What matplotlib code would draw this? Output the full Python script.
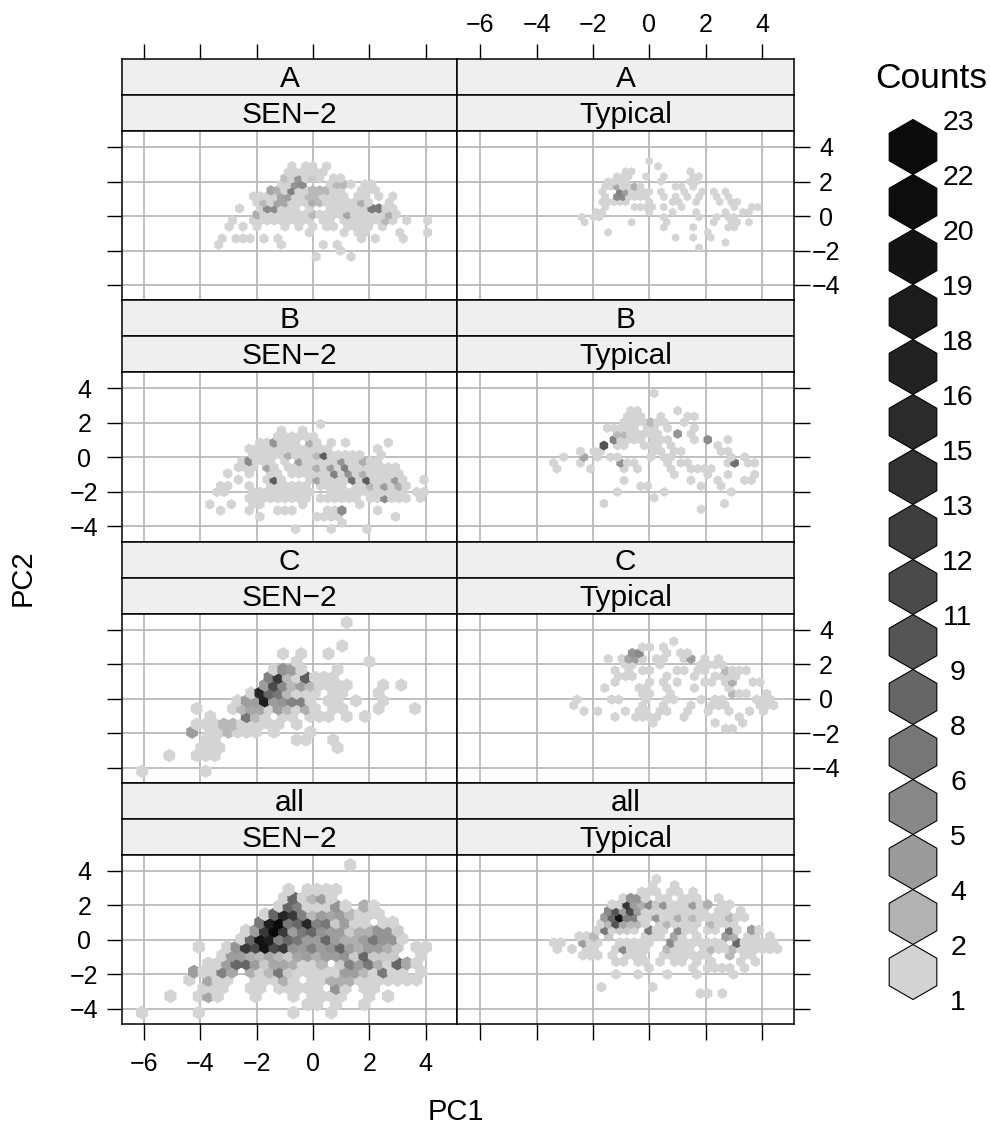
import numpy as np
import matplotlib
matplotlib.use("Agg")
import matplotlib.pyplot as plt

plt.rcParams["font.family"] = ["Liberation Sans", "DejaVu Sans"]

# hexbin cells, one string per hex row from the bottom: "col" or "col:count"
a_sen_rows = [
    "14 19", "17", "0 9 15 17", "0 2 3 4 6 8 20 22 26", "13 18 20 21 26 30",
    "1 3 5 9 11 13 15 16 18 19 20 21 23",
    "2 5 6 7 8 9 10 11 12 13 15 16 18 19 20 21 22 23 24:4 25 27 30",
    "5:5 6 7 8 9 10 11 12 13:4 14 15 16 17 18:6 19 20 21 22 23 24:5 25",
    "3 6 7:9 8:9 9 10 11 13 16 17 18 19 20 21 22:11 23:11 24 25",
    "5 6:4 7 8:6 9:6 10 11 12 13:5 14:4 15 16 17 18 19 20:5 21 24",
    "5 6 7 8 9:6 10:7 11 12 13:4 14:4 15 16 17 18 20 21 23 25",
    "7:6 8:5 9 10:10 11 12 13:4 14:4 15:4 16 17 20 21 22",
    "9 10 11:8 12:9 16 17:4 18:4 19 21 22",
    "9:3 10 11:8 12 13:2 14 16 17",
    "10 11 12 13 14 15",
    "10 12 13 15",
]
a_typ_rows = [
    "20", "24", "16 19 22", "4 21", "14 19 25 26",
    "0 8 14 22 25 26 28",
    "0 2 3 14 20 23 25 26",
    "2 3 11 15 19 24 27 28",
    "4 9 10 11 12 14 17 26 29 30",
    "3 4 5 6 7 11 15 16 19 23 25 26",
    "4 6:9 7:9 8 9 10 11 14 16 18 20 23 25",
    "3 6:10 7:7 8 9 10 11 13 17 20 22 24",
    "4 5 6:6 7 8 9:5 10 16 17 19",
    "4 5 6 7 13 18 19",
    "6 7 8 11 14 19 20",
    "7 8 18",
    "13",
    "11",
]
b_sen_rows = [
    "12 17 22", "18", "7 15 16 17 18 26",
    "1 5 9 10 11 16 17 18:9 23",
    "0 3 6 7 13 21",
    "5 6 7 8 9 10 11 12 13 15 16 17 18 19 20 22 23 24:9 25 26 27 29",
    "1 2 6 7 8 9 10 11 12 13 14 17 18 19 20 21 22 23 24 25 26 27 29 30",
    "1 2 5 8 9 10 11 12 13 15 16 17 18 20 21 22:4 23 24:7 25 26:5 27",
    "4 8 9:14 10 14 15:6 16 17 18 19 20:12 21 22:14 23 24 25 26:7 27 30",
    "2 5 8 9 11 12 13 14 15 16 17:10 18 19:8 20 21:5 22 23 24 25 26",
    "4 5 6 8:6 9 11 12 13 14 15:5 16 17:7 18 19:10 20 21 22 23 24 25 26",
    "4 5:9 6 7 8 10 12:7 13 14 15 16 17 18:8 19 20 21:5 22 23",
    "6 7 8 9 10 11:5 12 13 14 15:4 16:14 17 18 19 20 21 24",
    "5 6 7 8 9 10 11 12 13 14 15 16 23",
    "7 8 9:8 10 11 12 14:5 15 17 19 25",
    "9 10 11 12 13 14",
    "10 13",
    "15",
]
b_typ_rows = [
    "22", "7 25", "15", "9 16 26", "13 14 22 25",
    "10 20 24 28 29",
    "18 23 26 30",
    "0 5 10 12 17 20 21 22 23",
    "0 4 10:8 11 12 17 19 20 26 27:12 29 30",
    "1 4:6 6 8 9 14 16 17 26 28",
    "4 6 7 15 16 18 19 25 26",
    "7:15 9 10 13 14 15 17 24",
    "9:10 10 11 12 13 15 16 17 21 23:9 26",
    "9:4 10:4 11 12 13 14 15 18:8 20",
    "8 9 10 11 12 14 15 17 21",
    "10 11 12 13 14:4 15 16 19",
    "11 12 13 16 20 21",
    "11 12 18",
    "", "",
    "15",
]
c_sen_rows = [
    "0 7", "", "3 6 7 8", "6 7 8 21", "7 8 17 18 21",
    "5:7 7 8 9:4 10 11 12 14 18",
    "6 7 8 9:4 10:4 11 12 13 14 15 17",
    "7 11:11 12:4 13 15 16 18 19 20 22 24",
    "6 10 11:4 12:6 13:6 14 15:7 16:4 17 18:5 19 21 22 26 30",
    "10 11:7 12:7 13:21 14:7 15:8 16:10 17:10 18 20 21 23 26",
    "12 13:20 14:13 15:11 16:4 17 18 19 21 22 26",
    "13:7 14:16 15:9 16:4 17:7 18:4 19 20 21 22 26 28",
    "14:10 15:18 16:4 17 18:14 19 20 21",
    "14 15:8 16:7 17 21",
    "17 25",
    "15 17 20",
    "22", "", "",
    "22",
]
c_typ_rows = [
    "22 23", "11 20 24", "6 9 10 11 12 16 24",
    "1 3 7 9 10 12 13 16 19 22 25 27",
    "0 10 13 17 20 21 22 27 28 29",
    "0 5 6 10 13 14 18 20 21 26 27 28",
    "10 11 14 23:4 24 25 28",
    "4 9 10 13 17 22",
    "6 11 13 15 19 20 22 23:5 26 27",
    "6 7 8 13 17 20 21 22 23",
    "6 8 10 11 15 16 18 19 22:4 23 24 25",
    "7 8 12 18 19 20 21",
    "5 7 8:6 9:7 10 12 13 16 17:7 19 21",
    "8:8 9:9 13 15 16",
    "10 11 13",
    "14",
]
all_sen_rows = [
    "0 6 16 20",
    "17 18 20 23",
    "3 6 7:6 8 12 16 18 19 20 21 24 26",
    "6 7 8 11 12 14 15 16 17 18 20:8 21 23 24",
    "5 7:6 8 9 12 13 14 15:5 16 18 19 20:5 21:5 22:5 23 24 25 26 27 28 29",
    "5:7 6 7 8:10 9:6 11:5 12 13:4 14:11 15:2 16 17 18 19 20 21:7 22:7 23:4 24 25:11 26 27 29",
    "7 8 9:7 10:13 11:13 12:7 13:2 14:6 15:6 16:5 17 18 19:4 21:2 22:10 23:7 24:11 25:5 26 27:13 28:6 29",
    "8 9:7 10:7 11:5 12:4 13:6 14:4 15:2 16:6 17:7 18:5 19:7 20:7 21:8 22:2 23:13 24:2 25:2 26:2 29",
    "6 9 10:8 11:18 12:16 13:22 14:16 15:18 16:8 17:7 18:10 19:7 20:8 21:13 22:7 23:5 24:7 25:7 26:5 27:2 29 30",
    "10 11:13 12:22 13:21 14:10 15:13 16:11 17:7 18:7 19:13 20:7 21:5 22:5 23:7 24:11 25:8 26:8 27",
    "11 12:7 13:18 14:23 15:18 16:7 17:11 18:13 19:8 20:7 21:7 22:2 23:5 24:5 25:8 26:8 27:2",
    "12:11 13:21 14:23 15:11 16:13 17:20 18:10 19:11 20:2 21:7 22 23 25 26",
    "13 14:13 15:20 16:18 17:10 18:4 19:7 20:6 21:7 22:4 23 24 25",
    "14 15:13 16:10 17 18 19 20:8 21 23:5 24",
    "15 16:13 17 18:4 19:7 20",
    "15 17 18 19 20",
    "", "",
    "22",
]
all_typ_rows = [
    "20 21 23",
    "6 13",
    "",
    "8 11 15 19 24",
    "13 19 21 22 23 24 26",
    "8 9 11 12 14 16 17 19 21 25 27",
    "4 5 6 8 10 11 12 15 16 17 18 19 20 21 24:4 26 27",
    "0 2 4 5 8 9:9 10 11 12 15:4 16 17 18 20 21:4 22 23 24:4 25 26 27 28 29 30",
    "0 1 4:7 5 6 9 10 11 12 13 16:9 17 18 19 20 21 22 23 25:13 26 27 28 29 30",
    "3 4 5:4 7:2 12 13 14 16:6 17 19 23:7 24:5 26 27 29",
    "6 7:11 8 9:2 10:2 11 13:11 14 15 17:9 18 19 21 22 24:11 25 27:7 28",
    "6 7:4 8:15 9:6 10:4 11:4 12 14 15:4 16 17 18 19 21:4 22 23 24",
    "7:7 8:13 9:22 10:10 11:10 12 13 14:8 15 16 17:5 18 19:4 20 21 22 23 24:4 25 26",
    "7:9 8:15 9:7 10:16 11:7 12 13 14 15 16 17 18 19 20 22 23 25",
    "8 9 10:18 11:7 12:5 13:9 14:2 15:8 16 17 18 19:7 20 21:5 23 24",
    "9 10:8 11:8 12 14 15 17 18 19 22",
    "12 13 14 16 17 19",
    "13 16",
    "14",
]

# first even-row hex x, column step, first row y, row step of each panel's hex grid
a_sen_bins = (-3.35, 0.2473, -2.36, 0.350)
a_typ_bins = (-2.40, 0.2083, -1.836, 0.2947)
b_sen_bins = (-3.66, 0.2533, -4.155, 0.3575)
b_typ_bins = (-3.396, 0.2379, -3.014, 0.3362)
c_sen_bins = (-6.07, 0.323, -4.21, 0.4541)
c_typ_bins = (-2.686, 0.245, -1.739, 0.3372)
all_sen_bins = (-6.07, 0.336, -4.21, 0.4754)
all_typ_bins = (-3.396, 0.2604, -3.098, 0.3681)

group_names = ["A", "B", "C", "all"]
type_names = ["SEN\u22122", "Typical"]
tick_values = [-6, -4, -2, 0, 2, 4]
ytick_values = [-4, -2, 0, 2, 4]

legend_labels = [23, 22, 20, 19, 18, 16, 15, 13, 12, 11, 9, 8, 6, 5, 4, 2, 1]
legend_greys = ["#0b0b0b", "#0d0d0d", "#141414", "#1c1c1c", "#222222", "#2b2b2b", "#333333", "#3e3e3e",
                "#4a4a4a", "#555555", "#666666", "#767676", "#888888", "#9b9b9b", "#b3b3b3", "#d3d3d3"]

W, H = 990, 1124
FS = 18


def box(x0, y0, x1, y1):
    # pixel box, y from the top, to figure fractions
    return [x0 / W, 1 - y1 / H, (x1 - x0) / W, (y1 - y0) / H]


def parse(rows, bins):
    x0, dx, y0, dy = bins
    xs, ys, counts = [], [], []
    for r, row in enumerate(rows):
        for tok in row.split():
            col, _, n = tok.partition(":")
            xs.append(x0 + dx * (int(col) + 0.5 * (r % 2)))
            ys.append(y0 + dy * r)
            counts.append(int(n) if n else 1)
    return np.array(xs), np.array(ys), np.array(counts)


fig = plt.figure(figsize=(W / 100, H / 100), dpi=100)

cols = [(122, 457, 144), (457, 794, 480.3)]
period = 241.33
tops = [59 + period * n for n in range(4)]
all_rows = [[a_sen_rows, a_typ_rows], [b_sen_rows, b_typ_rows], [c_sen_rows, c_typ_rows], [all_sen_rows, all_typ_rows]]
all_bins = [[a_sen_bins, a_typ_bins], [b_sen_bins, b_typ_bins], [c_sen_bins, c_typ_bins], [all_sen_bins, all_typ_bins]]
UNIT = 28.17
tick_px = 15.5 * 0.72

for i, top in enumerate(tops):
    for j, (left, right, x_m6) in enumerate(cols):
        xlim = ((left - x_m6) / UNIT - 6, (right - x_m6) / UNIT - 6)

        # two strips on top of every panel
        for k, label in enumerate([group_names[i], type_names[j]]):
            st = fig.add_axes(box(left, top + 36 * k, right, top + 36 * (k + 1)))
            st.set_facecolor("#efefef")
            st.set_xlim(xlim)
            st.set_yticks([])
            st.set_xticks([])
            st.text(0.5, 0.44, label, transform=st.transAxes, ha="center", va="center", fontsize=21.5)
            for s in st.spines.values():
                s.set_linewidth(1.1)
            if i == 0 and k == 0:
                st.xaxis.tick_top()
                st.set_xticks(tick_values)
                st.tick_params(axis="x", length=tick_px, width=1.0, labelsize=FS, pad=5)
                st.set_xticklabels([str(v).replace("-", "\u2212") for v in tick_values] if j == 1 else [])

        ax = fig.add_axes(box(left, top + 72, right, top + period))
        ax.set_xlim(xlim)
        ax.set_ylim(-4 - (period - 72 - 154) / 17.25, 4 + 16 / 17.25)
        ax.set_axisbelow(True)
        ax.grid(True, color="#b4b4b4", linewidth=1.2)
        ax.set_xticks(tick_values)
        ax.set_yticks(ytick_values)

        xs, ys, counts = parse(all_rows[i][j], all_bins[i][j])
        dx_px = all_bins[i][j][1] * UNIT
        size = (2 * 1.28 * dx_px / np.sqrt(3) * 0.72) ** 2
        greys = np.interp(counts, [1, 23], [0.83, 0.04])
        ax.scatter(xs, ys, s=size, marker="h", c=[(g, g, g) for g in greys], linewidths=0, zorder=2)

        # ticks: outside, labels alternating between the columns
        ax.tick_params(axis="both", length=0, labelbottom=False, labelleft=False)
        if i == 3:
            ax.tick_params(axis="x", bottom=True, length=tick_px, width=1.0, labelbottom=(j == 0), labelsize=FS, pad=9)
            if j == 0:
                ax.set_xticklabels([str(v).replace("-", "\u2212") for v in tick_values])
        labels_left = (i % 2 == 1)
        if j == 0:
            ax.tick_params(axis="y", left=True, length=tick_px, width=1.0, labelleft=labels_left, labelsize=FS, pad=16)
        else:
            ax.yaxis.tick_right()
            ax.tick_params(axis="y", right=True, length=tick_px, width=1.0, labelright=not labels_left,
                           labelsize=FS, pad=12)
        ax.set_yticklabels([str(v).replace("-", "\u2212") for v in ytick_values])
        for lab in ax.get_yticklabels():
            lab.set_ha("center")
        for s in ax.spines.values():
            s.set_linewidth(1.1)
            s.set_zorder(5)

# overlay in pixel coordinates for the legend and the axis titles
over = fig.add_axes([0, 0, 1, 1], facecolor="none")
over.set_xlim(0, W)
over.set_ylim(H, 0)
over.axis("off")
leg_y = 147 + 55 * np.arange(len(legend_greys))
over.scatter(np.full(len(leg_y), 913), leg_y, s=(2 * 27.5 * 0.72) ** 2, marker="h", c=legend_greys,
             edgecolors="black", linewidths=0.8)
for n, lab in enumerate(legend_labels):
    over.text(958, 123 + 55 * n, str(lab), ha="center", va="center", fontsize=20.5)
over.text(931, 78, "Counts", ha="center", va="center", fontsize=25.5)
over.text(456, 1112, "PC1", ha="center", va="center", fontsize=21)
over.text(23, 578, "PC2", ha="center", va="center", rotation=90, fontsize=21)

fig.savefig("out.png", dpi=100)
